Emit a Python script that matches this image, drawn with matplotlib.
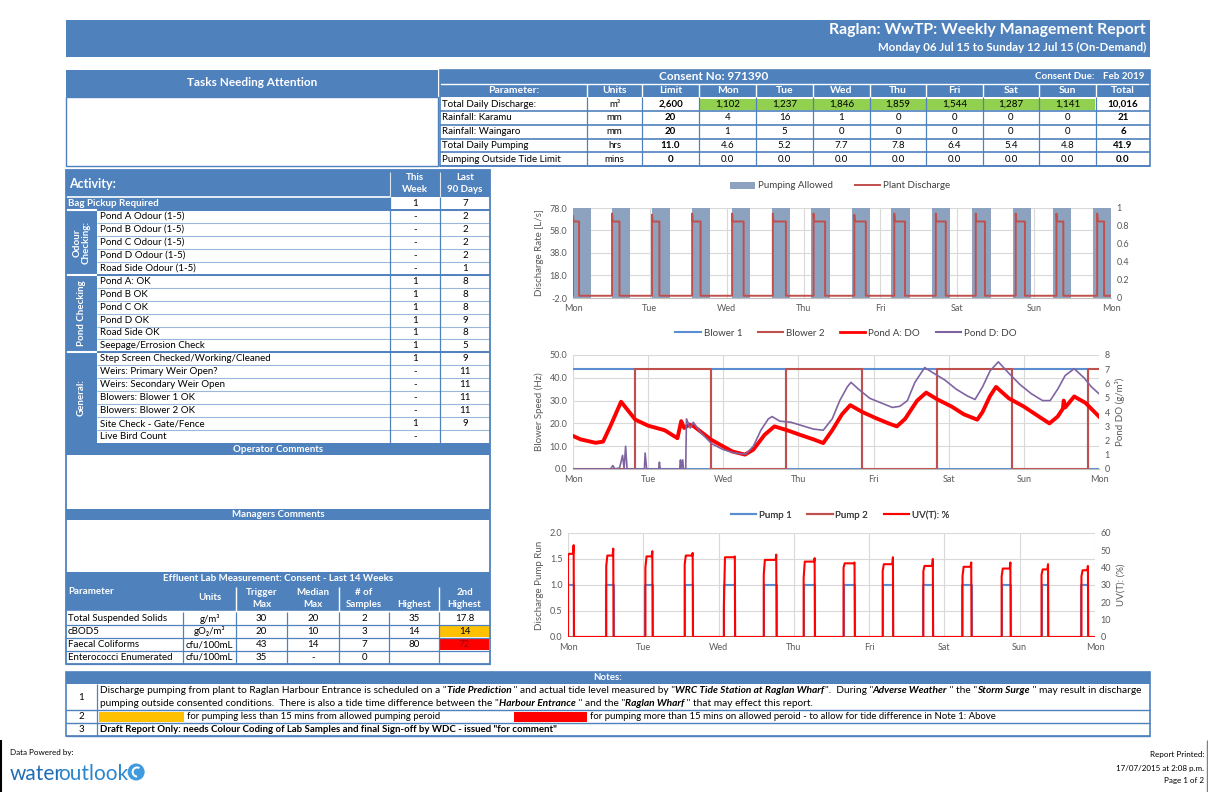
import matplotlib.pyplot as plt
from matplotlib.patches import Rectangle, Patch, Circle, Wedge
from matplotlib.lines import Line2D

W, H = 1208, 792
BLUE = '#4F81BD'
LINE = '#4F81BD'
GREEN = '#92D050'
ORANGE = '#FFC000'
RED = '#FF0000'
GREY = '#595959'
GRID = '#D9D9D9'
ALLOW = '#8DA2BE'

# ---- header / consent table ----
title = 'Raglan: WwTP: Weekly Management Report'
subtitle = 'Monday 06 Jul 15 to Sunday 12 Jul 15 (On-Demand)'
consent_no = 'Consent No: 971390'
consent_due = 'Feb 2019'
consent_cols = ['Parameter:', 'Units', 'Limit', 'Mon', 'Tue', 'Wed', 'Thu', 'Fri', 'Sat', 'Sun', 'Total']
consent_params = ['Total Daily Discharge:', 'Rainfall: Karamu', 'Rainfall: Waingaro',
                  'Total Daily Pumping', 'Pumping Outside Tide Limit']
consent_units = ['m³', 'mm', 'mm', 'hrs', 'mins']
consent_limit = ['2,600', '20', '20', '11.0', '0']
discharge_daily = ['1,102', '1,237', '1,846', '1,859', '1,544', '1,287', '1,141']
karamu_daily = ['4', '16', '1', '0', '0', '0', '0']
waingaro_daily = ['1', '5', '0', '0', '0', '0', '0']
pumping_daily = ['4.6', '5.2', '7.7', '7.8', '6.4', '5.4', '4.8']
outside_daily = ['0.0', '0.0', '0.0', '0.0', '0.0', '0.0', '0.0']
consent_total = ['10,016', '21', '6', '41.9', '0.0']

# ---- activity table ----
activity_rows = ['Bag Pickup Required', 'Pond A Odour (1-5)', 'Pond B Odour (1-5)', 'Pond C Odour (1-5)',
                 'Pond D Odour (1-5)', 'Road Side Odour (1-5)', 'Pond A: OK', 'Pond B OK', 'Pond C OK',
                 'Pond D OK', 'Road Side OK', 'Seepage/Errosion Check', 'Step Screen Checked/Working/Cleaned',
                 'Weirs: Primary Weir Open?', 'Weirs: Secondary Weir Open', 'Blowers: Blower 1 OK',
                 'Blowers: Blower 2 OK', 'Site Check - Gate/Fence', 'Live Bird Count']
activity_week = ['1', '-', '-', '-', '-', '-', '1', '1', '1', '1', '1', '1', '1', '-', '-', '-', '-', '1', '-']
activity_90 = ['7', '2', '2', '2', '2', '1', '8', '8', '8', '9', '8', '5', '9', '11', '11', '11', '11', '9', '']
activity_groups = [('Odour\nChecking:', 1, 5), ('Pond Checking', 6, 11), ('General:', 12, 18)]

# ---- lab table ----
lab_params = ['Total Suspended Solids', 'cBOD5', 'Faecal Coliforms', 'Enterococci Enumerated']
lab_units = ['g/m³', 'gO₂/m³', 'cfu/100mL', 'cfu/100mL']
lab_trigger = ['30', '20', '43', '35']
lab_median = ['20', '10', '14', '-']
lab_samples = ['2', '3', '7', '0']
lab_highest = ['35', '14', '80', '']
lab_second = ['17.8', '14', '72', '']
lab_second_fill = ['white', ORANGE, RED, 'white']

# ---- chart data (x in days from Monday 00:00) ----
day_labels = ['Mon', 'Tue', 'Wed', 'Thu', 'Fri', 'Sat', 'Sun', 'Mon']
allowed_start = [0.0, 0.504, 1.024, 1.544, 2.063, 2.583, 3.103, 3.629, 4.143, 4.669, 5.194, 5.720, 6.240, 6.771]
allowed_end = [0.230, 0.739, 1.259, 1.779, 2.299, 2.819, 3.339, 3.864, 4.379, 4.910, 5.435, 5.961, 6.481, 7.0]
allowed_flag = [1, 1, 1, 1, 1, 1, 1, 1, 1, 1, 1, 1, 1, 1]
pump_on = [0.0, 0.508, 1.028, 1.55, 2.07, 2.60, 3.13, 3.66, 4.18, 4.72, 5.24, 5.76, 6.29, 6.82]
pump_off = [0.079, 0.605, 1.124, 1.66, 2.22, 2.77, 3.28, 3.81, 4.32, 4.85, 5.36, 5.88, 6.38, 6.91]
discharge_peak = [71, 73, 72, 73, 73, 73, 73, 72, 73, 73, 73, 73, 73, 73]
discharge_flow = [66, 66, 66, 66, 66, 66, 66, 66, 66, 66, 66, 66, 66, 66]
uv_start = [47, 41, 40, 42, 17, 36, 34, 40, 38, 38, 35, 35, 36, 35]
uv_level = [48, 47, 46.5, 47, 46, 44.5, 43.5, 42.5, 42, 41, 40.5, 39.5, 39, 38.5]
uv_peak = [53, 51, 49.5, 48.5, 46.5, 47.5, 45.5, 43, 46, 45, 43, 43, 42, 41]

blower_switch = [0.83, 1.84, 2.84, 3.84, 4.85, 5.84, 6.86]
blower_speed = 44.0

pondA_t = [0, 0.1, 0.3, 0.4, 0.5, 0.64, 0.7, 0.83, 1.0, 1.22, 1.39, 1.44, 1.48, 1.55, 1.61, 1.84, 2.12,
           2.29, 2.4, 2.55, 2.68, 2.85, 3.02, 3.2, 3.33, 3.45, 3.58, 3.69, 3.85, 4.03, 4.2, 4.31, 4.42,
           4.58, 4.7, 4.85, 5.04, 5.2, 5.38, 5.45, 5.55, 5.63, 5.8, 6.0, 6.2, 6.34, 6.45, 6.52, 6.53,
           6.55, 6.67, 6.82, 7.0]
pondA_do = [2.32, 2.08, 1.84, 1.92, 3.04, 4.72, 4.32, 3.46, 3.04, 2.72, 2.16, 3.36, 2.88, 3.12, 2.99,
            2.05, 1.23, 1.01, 1.36, 2.4, 2.99, 2.72, 2.4, 2.08, 1.82, 2.72, 3.84, 4.48, 4.0, 3.57, 3.2,
            2.99, 3.52, 4.8, 5.36, 4.88, 4.38, 3.84, 3.46, 4.0, 5.12, 5.76, 4.96, 4.38, 3.68, 3.2, 3.68,
            4.24, 4.8, 4.32, 5.09, 4.64, 3.68]
pondD_t = [0, 0.5, 0.53, 0.56, 0.62, 0.66, 0.68, 0.7, 0.72, 0.95, 0.96, 0.98, 1.14, 1.15, 1.16, 1.42,
           1.43, 1.44, 1.46, 1.47, 1.5, 1.51, 1.56, 1.6, 1.7, 1.85, 2.0, 2.15, 2.3, 2.4, 2.5, 2.6, 2.65,
           2.75, 2.9, 3.05, 3.2, 3.33, 3.45, 3.55, 3.65, 3.7, 3.8, 3.95, 4.1, 4.25, 4.35, 4.45, 4.55,
           4.68, 4.8, 4.95, 5.1, 5.25, 5.35, 5.45, 5.55, 5.66, 5.8, 5.95, 6.1, 6.25, 6.35, 6.45, 6.55,
           6.67, 6.8, 6.9, 7.0]
pondD_do = [0, 0, 0.24, 0, 0.08, 0.96, 0, 1.6, 0, 0, 1.12, 0, 0, 0.48, 0, 0, 0.64, 0, 0.64, 0, 0,
            3.52, 2.88, 3.28, 2.56, 1.76, 1.36, 1.12, 1.04, 1.6, 2.72, 3.52, 3.68, 3.36, 3.28, 3.04,
            2.8, 2.72, 3.52, 4.8, 5.76, 6.08, 5.6, 4.96, 4.64, 4.32, 4.4, 4.8, 6.08, 7.12, 6.72, 6.24,
            5.6, 5.12, 4.88, 5.76, 6.88, 7.52, 6.72, 5.92, 5.28, 4.8, 4.8, 5.6, 6.56, 7.04, 6.4, 5.76,
            5.28]

notes_1a = [('Discharge pumping from plant to Raglan Harbour Entrance is scheduled on a "', 'normal', 'normal'),
            ('Tide Prediction', 'bold', 'italic'),
            (' " and actual tide level measured by "', 'normal', 'normal'),
            ('WRC Tide Station at Raglan Wharf', 'bold', 'italic'),
            ('".  During "', 'normal', 'normal'),
            ('Adverse Weather', 'bold', 'italic'),
            (' " the "', 'normal', 'normal'),
            ('Storm Surge', 'bold', 'italic'),
            (' " may result in discharge', 'normal', 'normal')]
notes_1b = [('pumping outside consented conditions.  There is also a tide time difference between the "', 'normal', 'normal'),
            ('Harbour Entrance', 'bold', 'italic'),
            (' " and the "', 'normal', 'normal'),
            ('Raglan Wharf', 'bold', 'italic'),
            (' " that may effect this report.', 'normal', 'normal')]
note_2a = 'for pumping less than 15 mins from allowed pumping peroid'
note_2b = 'for pumping more than 15 mins on allowed peroid - to allow for tide difference in Note 1: Above'
note_3 = 'Draft Report Only: needs Colour Coding of Lab Samples and final Sign-off by WDC - issued "for comment"'

plt.rcParams['font.family'] = ['Lato', 'DejaVu Sans']

fig = plt.figure(figsize=(W / 100, H / 100), dpi=100)
bg = fig.add_axes([0, 0, 1, 1])
bg.set_xlim(0, W)
bg.set_ylim(H, 0)
bg.set_autoscale_on(False)
bg.axis('off')


def box(x0, y0, x1, y1, fc='none', ec='none', lw=0.8, z=1):
    bg.add_patch(Rectangle((x0, y0), x1 - x0, y1 - y0, facecolor=fc, edgecolor=ec, linewidth=lw, zorder=z))


def hl(y, x0, x1, c=LINE, lw=0.8):
    bg.plot([x0, x1], [y, y], color=c, lw=lw, solid_capstyle='butt', zorder=3)


def vl(x, y0, y1, c=LINE, lw=0.8):
    bg.plot([x, x], [y0, y1], color=c, lw=lw, solid_capstyle='butt', zorder=3)


def txt(x, y, s, size=7, ha='center', weight='normal', color='black', **kw):
    return bg.text(x, y, s, fontsize=size, ha=ha, va='center', fontweight=weight, color=color, zorder=4, **kw)


def rich(x, y, parts, size=7.3):
    # draw text pieces one after another on a line
    r = fig.canvas.get_renderer()
    for s, w, st in parts:
        t = bg.text(x, y, s, fontsize=size, fontweight=w, fontstyle=st, ha='left', va='center', zorder=4)
        x = t.get_window_extent(r).x1
    return x


def px_axes(x0, y0, x1, y1):
    return fig.add_axes([x0 / W, 1 - y1 / H, (x1 - x0) / W, (y1 - y0) / H])


# ---- title band ----
box(66, 20, 1150, 57, fc=BLUE)
txt(1146, 30, title, size=11.4, ha='right', weight='bold', color='white')
txt(1146, 47, subtitle, size=8.3, ha='right', weight='bold', color='white')

# ---- tasks box ----
box(66, 70, 438, 97, fc=BLUE)
box(66, 97, 438, 166, fc='white', ec=LINE, lw=1)
txt(252, 83, 'Tasks Needing Attention', size=8.5, weight='bold', color='white')

# ---- consent table ----
cc = [440, 587, 642, 699, 756, 813, 870, 926, 983, 1039, 1096, 1150]
ry = [70 + 13.7 * i for i in range(8)]
box(cc[0], ry[0], cc[-1], ry[2], fc=BLUE)
hl(ry[1], cc[0], cc[-1], c='white', lw=1)
txt(714, (ry[0] + ry[1]) / 2, consent_no, size=8.5, weight='bold', color='white')
txt(1094, (ry[0] + ry[1]) / 2, 'Consent Due:', size=7, ha='right', weight='bold', color='white')
txt(1144, (ry[0] + ry[1]) / 2, consent_due, size=7, ha='right', weight='bold', color='white')
for i, name in enumerate(consent_cols):
    txt((cc[i] + cc[i + 1]) / 2, (ry[1] + ry[2]) / 2, name, size=7.5, weight='bold', color='white')
    if i > 0:
        vl(cc[i], ry[1], ry[2], c='white', lw=1)
daily_rows = [discharge_daily, karamu_daily, waingaro_daily, pumping_daily, outside_daily]
for r in range(5):
    y0, y1 = ry[r + 2], ry[r + 3]
    yc = (y0 + y1) / 2
    if r == 0:
        box(cc[3] + 1, y0 + 1.5, cc[10] - 1, y1 - 1.5, fc=GREEN)
    txt(cc[0] + 2, yc, consent_params[r], size=7, ha='left')
    txt((cc[1] + cc[2]) / 2, yc, consent_units[r], size=7)
    txt((cc[2] + cc[3]) / 2, yc, consent_limit[r], size=7, weight='bold')
    for d in range(7):
        txt((cc[3 + d] + cc[4 + d]) / 2, yc, daily_rows[r][d], size=7)
    txt((cc[10] + cc[11]) / 2, yc, consent_total[r], size=7, weight='bold')
    hl(y1, cc[0], cc[-1], lw=1.2)
for x in cc[1:-1]:
    vl(x, ry[2], ry[-1], lw=0.9)
box(cc[0], ry[0], cc[-1], ry[-1], ec=LINE, lw=1.2, z=3)

# ---- activity table ----
ax0, gx, wx, nx, rx = 66, 97, 390, 440, 490
top, hh, rh = 170, 27, 12.95
box(ax0, top, rx, top + hh, fc=BLUE)
txt(69, top + hh / 2, 'Activity:', size=9, ha='left', weight='bold', color='white')
txt((wx + nx) / 2, top + hh / 2, 'This\nWeek', size=7, weight='bold', color='white', linespacing=1.3)
txt((nx + rx) / 2, top + hh / 2, 'Last\n90 Days', size=7, weight='bold', color='white', linespacing=1.3)
vl(wx, top + 2, top + hh, c='#DCE6F1', lw=0.8)
vl(nx, top + 2, top + hh, c='#DCE6F1', lw=0.8)
hl(top + hh, ax0, wx, c='white', lw=1.2)
r0 = top + hh
box(ax0, r0, wx, r0 + rh, fc=BLUE)
box(ax0, r0 + rh, gx, r0 + 19 * rh, fc=BLUE)
for i, name in enumerate(activity_rows):
    y0 = r0 + i * rh
    yc = y0 + rh / 2
    if i == 0:
        txt(ax0 + 2, yc, name, size=7, ha='left', weight='bold', color='white')
    else:
        txt(gx + 3, yc, name, size=7, ha='left')
    txt((wx + nx) / 2, yc, activity_week[i], size=7)
    txt((nx + rx) / 2, yc, activity_90[i], size=7)
    if i < 18:
        hl(y0 + rh, gx if i > 0 else ax0, rx, c='#9BB7DA', lw=0.8)
for label, a, b in activity_groups:
    ya, yb = r0 + a * rh, r0 + (b + 1) * rh
    txt((ax0 + gx) / 2, (ya + yb) / 2, label, size=7, weight='bold', color='white', rotation=90,
        linespacing=1.1)
    hl(ya, ax0, gx, c='white', lw=1.5)
    hl(ya, gx, rx, c=LINE, lw=1.4)
vl(wx, r0, r0 + 19 * rh, lw=0.9)
vl(nx, r0, r0 + 19 * rh, lw=0.9)

# ---- comments + lab table ----
bt = r0 + 19 * rh
box(ax0, bt, rx, bt + 12, fc=BLUE)
txt(278, bt + 6, 'Operator Comments', size=7, weight='bold', color='white')
box(ax0, 509, rx, 520, fc=BLUE)
txt(278, 514.5, 'Managers Comments', size=7, weight='bold', color='white')
box(ax0, 572, rx, 585, fc=BLUE)
txt(278, 578.5, 'Effluent Lab Measurement: Consent - Last 14 Weeks', size=7, weight='bold', color='white')
box(ax0, 585, rx, 612, fc=BLUE)
lc = [66, 183, 236, 287, 339, 389, 439, 490]
txt(68, 592, 'Parameter', size=7, ha='left', weight='bold', color='white')
txt((lc[1] + lc[2]) / 2, 598, 'Units', size=7, weight='bold', color='white')
heads = [('Trigger\nMax', 2), ('Median\nMax', 3), ('# of\nSamples', 4), ('\nHighest', 5), ('2nd\nHighest', 6)]
for h, k in heads:
    txt((lc[k] + lc[k + 1]) / 2, 598.5, h, size=7, weight='bold', color='white', linespacing=1.35)
for x in (lc[2], lc[4], lc[6]):
    vl(x, 587, 612, c='white', lw=1)
hl(611, ax0, rx, c='white', lw=1)
lab_cols = [lab_units, lab_trigger, lab_median, lab_samples, lab_highest, lab_second]
for r in range(4):
    y0 = 612 + r * 13
    yc = y0 + 6.5
    box(lc[6] + 1, y0 + 1, lc[7] - 1, y0 + 12, fc=lab_second_fill[r])
    txt(68, yc, lab_params[r], size=7, ha='left')
    for k, col in enumerate(lab_cols):
        txt((lc[k + 1] + lc[k + 2]) / 2, yc, col[r], size=7,
            color='#9C0006' if lab_second_fill[r] == RED and k == 5 else 'black')
    hl(y0 + 13, ax0, rx, lw=0.9)
for x in lc[1:-1]:
    vl(x, 612, 664, lw=0.9)
box(ax0, top, rx, 664, ec=LINE, lw=1.3, z=3)


# ---- charts ----
def style(ax, ylab, side='left'):
    for s in ax.spines.values():
        s.set_visible(False)
    ax.tick_params(length=0, labelsize=6.5, colors=GREY, pad=4)
    ax.set_ylabel(ylab, fontsize=7, color=GREY, labelpad=4)
    if side == 'right':
        ax.yaxis.set_label_position('right')


def day_axis(ax):
    ax.set_xlim(0, 7)
    ax.set_xticks(range(8))
    ax.set_xticklabels(day_labels)
    ax.tick_params(axis='x', pad=6)


def legend_at(handles, x, y, gap):
    leg = bg.legend(handles=handles, loc='center', bbox_to_anchor=(x, y), bbox_transform=bg.transData,
                    ncol=len(handles), frameon=False, fontsize=7, handlelength=2.6, columnspacing=gap,
                    handletextpad=0.3, labelcolor='#404040')
    bg.add_artist(leg)


# chart 1
c1 = px_axes(573, 208, 1111, 298)
c1b = c1.twinx()
c1.set_zorder(c1b.get_zorder() + 1)
c1.patch.set_visible(False)
for v in (0.25, 0.5, 0.75, 1.0):
    c1b.axhline(v, color=GRID, lw=0.8, zorder=0)
for d in range(1, 7):
    c1b.axvline(d, color=GRID, lw=0.8, zorder=0)
c1b.bar(allowed_start, allowed_flag, width=[e - s for s, e in zip(allowed_start, allowed_end)],
        align='edge', color=ALLOW, zorder=2)
xs, ys = [0], [0]
for on, off, pk, fl in zip(pump_on, pump_off, discharge_peak, discharge_flow):
    xs += [on, on, on + 0.008, off, off]
    ys += [0, pk, fl, fl, 0]
xs.append(7)
ys.append(0)
c1.plot(xs, ys, color='#C0504D', lw=1.4, zorder=3)
c1.set_ylim(-2, 78)
c1.set_yticks([-2, 18, 38, 58, 78])
c1.set_yticklabels(['-2.0', '18.0', '38.0', '58.0', '78.0'])
c1b.set_ylim(0, 1)
c1b.set_yticks([0, 0.2, 0.4, 0.6, 0.8, 1])
c1b.set_yticklabels(['0', '0.2', '0.4', '0.6', '0.8', '1'])
day_axis(c1)
c1b.set_xlim(0, 7)
style(c1, 'Discharge Rate [L/s]')
style(c1b, '')
c1b.spines['bottom'].set_visible(True)
c1b.spines['bottom'].set_color('#BFBFBF')
legend_at([Patch(facecolor=ALLOW, label='Pumping Allowed'),
           Line2D([], [], color='#C0504D', lw=1.4, label='Plant Discharge')], 840, 186, 2.2)

# chart 2
c2 = px_axes(573, 355, 1099, 469)
c2b = c2.twinx()
c2.grid(True, color=GRID, lw=0.8)
c2.set_axisbelow(True)
b1x, b1y, b2x, b2y = [0], [blower_speed], [0], [0]
state = 1
for s in blower_switch:
    b1x += [s, s]
    b2x += [s, s]
    b1y += [blower_speed * state, blower_speed * (1 - state)]
    b2y += [blower_speed * (1 - state), blower_speed * state]
    state = 1 - state
b1x.append(7)
b1y.append(b1y[-1])
b2x.append(7)
b2y.append(b2y[-1])
c2.plot(b1x, b1y, color='#5B8ED0', lw=1.5)
c2.plot(b2x, b2y, color='#C0504D', lw=1.5)
c2b.plot(pondA_t, pondA_do, color=RED, lw=2.8, solid_joinstyle='round')
c2b.plot(pondD_t, pondD_do, color='#8064A2', lw=1.2)
c2.set_ylim(0, 50)
c2.set_yticks(range(0, 51, 10))
c2.set_yticklabels(['%.1f' % v for v in range(0, 51, 10)])
c2b.set_ylim(0, 8)
c2b.set_yticks(range(9))
day_axis(c2)
style(c2, 'Blower Speed (Hz)')
style(c2b, 'Pond DO (g/m³)', 'right')
c2.spines['bottom'].set_visible(True)
c2.spines['bottom'].set_color('#BFBFBF')
legend_at([Line2D([], [], color='#5B8ED0', lw=1.5, label='Blower 1'),
           Line2D([], [], color='#C0504D', lw=1.5, label='Blower 2'),
           Line2D([], [], color=RED, lw=2, label='Pond A: DO'),
           Line2D([], [], color='#8064A2', lw=1.5, label='Pond D: DO')], 846, 333, 1.6)

# chart 3
c3 = px_axes(568, 533, 1095, 637)
c3b = c3.twinx()
c3.grid(True, color=GRID, lw=0.8)
c3.set_axisbelow(True)
px, py = [0], [0]
ux, uy = [0], [0]
for on, off, st, lv, pk in zip(pump_on, pump_off, uv_start, uv_level, uv_peak):
    px += [on, on, off, off]
    py += [0, 1, 1, 0]
    ux += [on, on, on + 0.015, off - 0.012, off - 0.004, off]
    uy += [0, st, lv, lv, pk, 0]
px.append(7)
py.append(0)
ux.append(7)
uy.append(0)
c3.plot([0, 7], [0, 0], color='#C0504D', lw=1.5)
c3.plot(px, py, color='#5B8ED0', lw=1.5)
c3b.plot(ux, uy, color=RED, lw=1.5)
c3.set_ylim(0, 2)
c3.set_yticks([0, 0.5, 1, 1.5, 2])
c3.set_yticklabels(['0.0', '0.5', '1.0', '1.5', '2.0'])
c3b.set_ylim(0, 60)
c3b.set_yticks(range(0, 61, 10))
day_axis(c3)
style(c3, 'Discharge Pump Run')
style(c3b, 'UV(T): (%)', 'right')
legend_at([Line2D([], [], color='#5B8ED0', lw=1.5, label='Pump 1'),
           Line2D([], [], color='#C0504D', lw=1.5, label='Pump 2'),
           Line2D([], [], color=RED, lw=1.5, label='UV(T): %')], 840, 515, 1.6)

# ---- notes ----
box(66, 672, 1150, 684, fc=BLUE)
txt(608, 678, 'Notes:', size=7, weight='bold', color='white')
nrows = [684, 710, 723, 736]
for i in range(3):
    txt(81, (nrows[i] + nrows[i + 1]) / 2, str(i + 1), size=7)
    hl(nrows[i + 1], 66, 1150, lw=1)
vl(97, 684, 736, lw=0.9)
box(66, 672, 1150, 736, ec=LINE, lw=1.2, z=3)
rich(100, 690.5, notes_1a)
rich(100, 703.5, notes_1b)
box(99, 711.5, 184, 721.5, fc=ORANGE, z=2)
txt(187, 716.5, note_2a, size=6.9, ha='left')
box(514, 711.5, 587, 721.5, fc=RED, z=2)
txt(590, 716.5, note_2b, size=6.9, ha='left')
txt(100, 729.5, note_3, size=6.9, ha='left', weight='bold')

# ---- footer ----
txt(10, 752, 'Data Powered by:', size=5.8, ha='left')
rend = fig.canvas.get_renderer()
t_water = txt(10, 774, 'water', size=15, ha='left', color='#1F6EB5')
xw = t_water.get_window_extent(rend).x1 - 5
t_out = txt(xw, 774, 'outlook', size=15, ha='left', color='#2B86CC')
xo = t_out.get_window_extent(rend).x1
bg.add_patch(Circle((xo + 8, 772), 8.5, facecolor='#3F9BDD', edgecolor='none', zorder=4))
bg.add_patch(Wedge((xo + 9, 772), 5.5, 90, 300, width=2, facecolor='white', edgecolor='none', zorder=5))
txt(1204, 755, 'Report Printed:', size=5.8, ha='right')
txt(1204, 768, '17/07/2015 at 2:08 p.m.', size=5.8, ha='right')
txt(1204, 781, 'Page 1 of 2', size=5.8, ha='right')
vl(1, 740, 792, c='black', lw=1.5)
vl(1207, 740, 792, c='#808080', lw=1)

fig.savefig('out.png', dpi=100)
